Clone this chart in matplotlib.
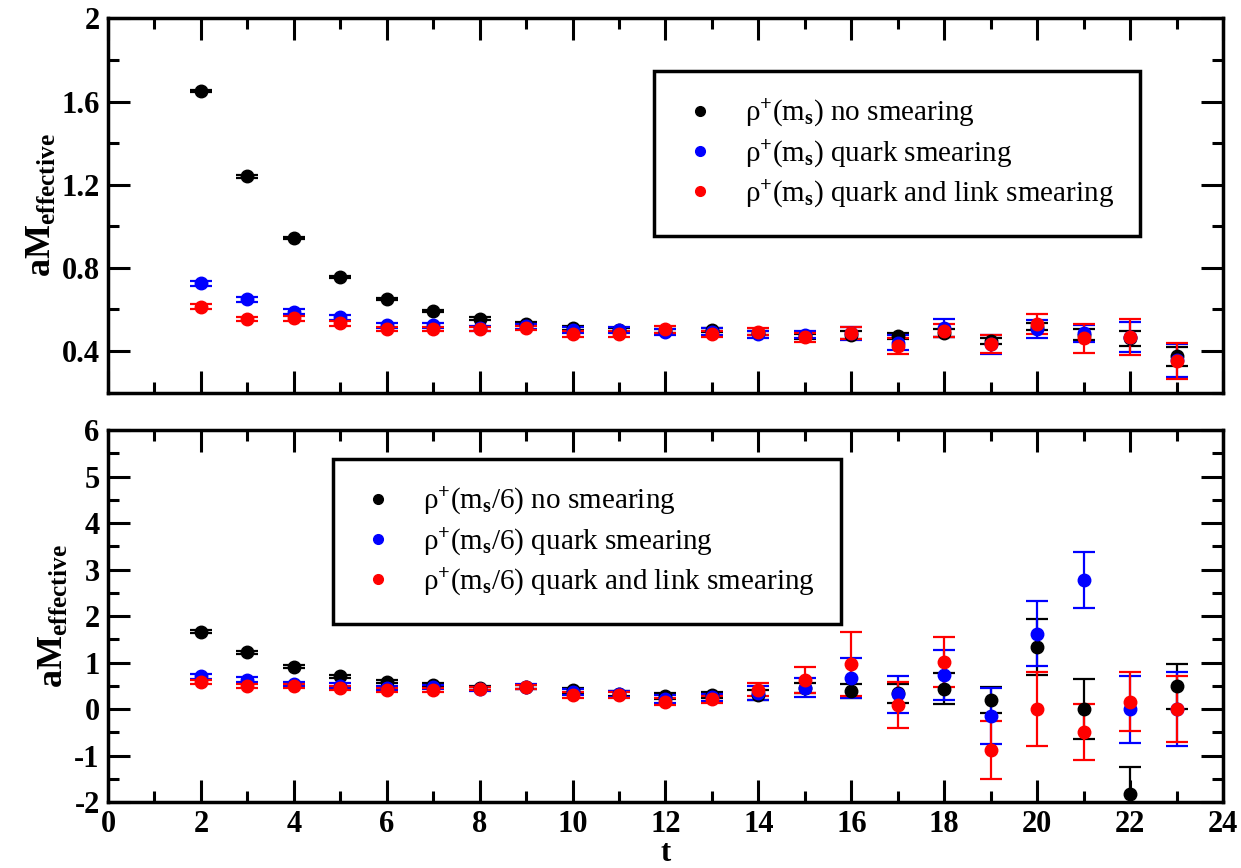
import numpy as np
import matplotlib
matplotlib.use("Agg")
import matplotlib.pyplot as plt
from matplotlib.lines import Line2D
from matplotlib.ticker import MultipleLocator, FuncFormatter

plt.rcParams["font.family"] = ["Liberation Serif", "DejaVu Serif"]
plt.rcParams["font.weight"] = "bold"          # tick labels are bold Times
plt.rcParams["mathtext.fontset"] = "custom"
plt.rcParams["mathtext.rm"] = "Liberation Serif"
plt.rcParams["mathtext.it"] = "Liberation Serif:italic"
plt.rcParams["mathtext.bf"] = "Liberation Serif:bold"

# ---------------------------------------------------------------------
# data: effective mass vs t
# ---------------------------------------------------------------------
t = np.arange(2, 24)

# top panel: rho+(m_s)
ms_none = [1.650, 1.240, 0.943, 0.757, 0.651, 0.592, 0.556, 0.532, 0.511, 0.502, 0.497,
           0.503, 0.488, 0.472, 0.477, 0.474, 0.487, 0.447, 0.518, 0.478, 0.461, 0.374]
ms_none_err = [0.006, 0.006, 0.006, 0.006, 0.006, 0.006, 0.007, 0.007, 0.008, 0.008, 0.009,
               0.010, 0.010, 0.012, 0.018, 0.014, 0.018, 0.014, 0.016, 0.026, 0.037, 0.048]
ms_quark = [0.727, 0.649, 0.589, 0.562, 0.525, 0.525, 0.510, 0.520, 0.503, 0.503, 0.491,
            0.494, 0.481, 0.479, 0.485, 0.441, 0.510, 0.432, 0.505, 0.485, 0.468, 0.355]
ms_quark_err = [0.012, 0.012, 0.012, 0.012, 0.012, 0.012, 0.012, 0.012, 0.014, 0.014, 0.014,
                0.015, 0.016, 0.018, 0.030, 0.034, 0.043, 0.045, 0.043, 0.042, 0.070, 0.080]
ms_link = [0.614, 0.554, 0.557, 0.533, 0.507, 0.507, 0.505, 0.509, 0.482, 0.481, 0.504,
           0.482, 0.493, 0.466, 0.488, 0.424, 0.498, 0.434, 0.530, 0.461, 0.469, 0.353]
ms_link_err = [0.010, 0.010, 0.010, 0.010, 0.010, 0.010, 0.010, 0.010, 0.014, 0.015, 0.015,
               0.016, 0.018, 0.020, 0.030, 0.037, 0.032, 0.044, 0.048, 0.069, 0.086, 0.086]

# bottom panel: rho+(m_s/6)
ml_none = [1.66, 1.22, 0.91, 0.70, 0.59, 0.52, 0.45, 0.48, 0.40, 0.33, 0.28,
           0.30, 0.30, 0.45, 0.38, 0.34, 0.44, 0.20, 1.33, 0.00, -1.83, 0.49]
ml_none_err = [0.03, 0.03, 0.03, 0.03, 0.03, 0.03, 0.04, 0.04, 0.05, 0.05, 0.06,
               0.06, 0.10, 0.10, 0.15, 0.20, 0.33, 0.28, 0.60, 0.64, 0.59, 0.48]
ml_quark = [0.70, 0.63, 0.54, 0.50, 0.45, 0.47, 0.43, 0.48, 0.37, 0.32, 0.22,
            0.25, 0.34, 0.46, 0.67, 0.32, 0.74, -0.15, 1.62, 2.78, 0.00, 0.00]
ml_quark_err = [0.05, 0.05, 0.05, 0.05, 0.05, 0.05, 0.05, 0.05, 0.07, 0.07, 0.08,
                0.08, 0.15, 0.20, 0.43, 0.40, 0.54, 0.60, 0.70, 0.60, 0.72, 0.80]
ml_link = [0.58, 0.49, 0.49, 0.45, 0.41, 0.41, 0.44, 0.48, 0.30, 0.30, 0.16,
           0.21, 0.41, 0.62, 0.97, 0.09, 1.01, -0.88, 0.00, -0.49, 0.16, 0.00]
ml_link_err = [0.04, 0.04, 0.04, 0.04, 0.04, 0.04, 0.04, 0.04, 0.07, 0.07, 0.08,
               0.08, 0.14, 0.28, 0.69, 0.50, 0.54, 0.62, 0.80, 0.60, 0.64, 0.71]

colors = ["black", "blue", "red"]
labels_top = ["ρ$^{+}$(m$_{\\mathrm{s}}$) no smearing",
              "ρ$^{+}$(m$_{\\mathrm{s}}$) quark smearing",
              "ρ$^{+}$(m$_{\\mathrm{s}}$) quark and link smearing"]
labels_bot = ["ρ$^{+}$(m$_{\\mathrm{s}}$/6) no smearing",
              "ρ$^{+}$(m$_{\\mathrm{s}}$/6) quark smearing",
              "ρ$^{+}$(m$_{\\mathrm{s}}$/6) quark and link smearing"]


def draw_panel(ax, series, labels, loc, anchor):
    for (y, e), c in zip(series, colors):
        ax.errorbar(t, y, yerr=e, fmt="o", color=c, ms=9, mec=c,
                    elinewidth=1.6, capsize=8, capthick=1.6)
    # marker-only proxies for the legend, as in the original
    handles = [Line2D([], [], ls="none", marker="o", color=c, ms=7) for c in colors]
    leg = ax.legend(handles, labels, loc=loc, bbox_to_anchor=anchor,
                    prop={"family": "Liberation Serif", "weight": "normal", "size": 21},
                    frameon=True, fancybox=False, framealpha=1, borderaxespad=0,
                    handletextpad=0.9, borderpad=0.9, labelspacing=0.3,
                    handlelength=1.3)
    leg.get_frame().set_edgecolor("black")
    leg.get_frame().set_linewidth(2.5)
    return leg


def style_axes(ax):
    ax.set_xlim(0, 24)
    ax.xaxis.set_major_locator(MultipleLocator(2))
    ax.xaxis.set_minor_locator(MultipleLocator(1))
    ax.tick_params(which="both", direction="in", top=True, right=True, width=2.2,
                   labelsize=22)
    ax.tick_params(which="major", length=16, pad=6)
    ax.tick_params(which="minor", length=8)
    for sp in ax.spines.values():
        sp.set_linewidth(2.5)
    ax.set_ylabel(r"$\mathbf{aM}_{\mathbf{effective}}$", fontsize=26, labelpad=2)


fig = plt.figure(figsize=(12.41, 8.68), dpi=100)
ax1 = fig.add_axes([0.087, 0.5476, 0.8985, 0.4313])
ax2 = fig.add_axes([0.087, 0.0760, 0.8985, 0.4286])

fmt = FuncFormatter(lambda v, p: f"{v:g}")

# top panel
draw_panel(ax1, [(ms_none, ms_none_err), (ms_quark, ms_quark_err), (ms_link, ms_link_err)],
           labels_top, "upper right", (0.9256, 0.858))
ax1.set_ylim(0.2, 2.0)
ax1.yaxis.set_major_locator(MultipleLocator(0.4))
ax1.yaxis.set_minor_locator(MultipleLocator(0.2))
ax1.yaxis.set_major_formatter(fmt)
style_axes(ax1)
ax1.tick_params(axis="x", labelbottom=False)

# bottom panel
draw_panel(ax2, [(ml_none, ml_none_err), (ml_quark, ml_quark_err), (ml_link, ml_link_err)],
           labels_bot, "upper left", (0.2018, 0.921))
ax2.set_ylim(-2, 6)
ax2.yaxis.set_major_locator(MultipleLocator(1))
ax2.yaxis.set_minor_locator(MultipleLocator(0.5))
ax2.yaxis.set_major_formatter(fmt)
ax2.xaxis.set_major_formatter(fmt)
style_axes(ax2)
ax2.set_xlabel("t", fontsize=22, fontweight="bold", labelpad=0)

fig.savefig("out.png", dpi=100)
